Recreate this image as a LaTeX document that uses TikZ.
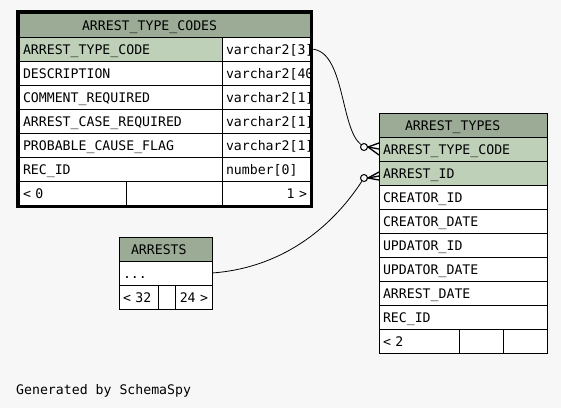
\documentclass[tikz,border=0pt]{standalone}
\usepackage{fontspec}
\newfontfamily\erdmono{DejaVu Sans Mono}
\usepackage{xcolor}
\definecolor{diagrambg}{HTML}{F7F7F7}
\definecolor{tablehead}{HTML}{9BAB96}
\definecolor{keyrow}{HTML}{BED1B8}
\usetikzlibrary{positioning}

\begin{document}
\begin{tikzpicture}[
  x=1pt,y=-1pt,
  cell/.style={draw=black,line width=1pt,fill=white,anchor=north west,outer sep=0pt,
    inner xsep=4pt,inner ysep=0pt,minimum height=24pt,text height=11.5pt,text depth=1.5pt,
    align=left,text width=#1,font=\erdmono\fontsize{13.2}{15}\selectfont},
  keycell/.style={cell=#1,fill=keyrow},
  rcell/.style={cell=#1,align=right},
  headcell/.style args={#1/#2}{cell=#2,fill=tablehead,inner xsep=#1},
  optional/.style={circle,draw=black,line width=1pt,fill=diagrambg,inner sep=0pt,minimum size=7pt},
  rel/.style={draw=black,line width=0.8pt},
  foot/.style={draw=black,line width=1.3pt}
]
\fill[diagrambg] (0,0) rectangle (561,408);
\useasboundingbox (0,0) rectangle (561,408);

% ARREST_TYPE_CODES
\begin{scope}
\clip (19,13) rectangle (310,205);
\node[headcell={63pt/165pt}] (atc) at (19,13) {ARREST\_TYPE\_CODES};
\node[keycell=195pt] (atc-code) at (atc.south west) {ARREST\_TYPE\_CODE};
\node[cell=81pt] (atc-code-t) at (atc-code.north east) {varchar2[3]};
\node[cell=195pt] (atc-desc) at (atc-code.south west) {DESCRIPTION};
\node[cell=81pt] (atc-desc-t) at (atc-desc.north east) {varchar2[40]};
\node[cell=195pt] (atc-comment) at (atc-desc.south west) {COMMENT\_REQUIRED};
\node[cell=81pt] (atc-comment-t) at (atc-comment.north east) {varchar2[1]};
\node[cell=195pt] (atc-case) at (atc-comment.south west) {ARREST\_CASE\_REQUIRED};
\node[cell=81pt] (atc-case-t) at (atc-case.north east) {varchar2[1]};
\node[cell=195pt] (atc-cause) at (atc-case.south west) {PROBABLE\_CAUSE\_FLAG};
\node[cell=81pt] (atc-cause-t) at (atc-cause.north east) {varchar2[1]};
\node[cell=195pt] (atc-rec) at (atc-cause.south west) {REC\_ID};
\node[cell=81pt] (atc-rec-t) at (atc-rec.north east) {number[0]};
\node[cell=99pt] (atc-prev) at (atc-rec.south west) {< 0};
\node[cell=88pt] (atc-gap) at (atc-prev.north east) {};
\node[rcell=81pt] (atc-next) at (atc-gap.north east) {1 >};
\end{scope}
\draw[line width=3.3pt] (17.35,11.5) rectangle (311.5,206.5);

% ARREST_TYPES
\node[headcell={26pt/116pt}] (at) at (379,113) {ARREST\_TYPES};
\node[keycell=160pt] (at-code) at (at.south west) {ARREST\_TYPE\_CODE};
\node[keycell=160pt] (at-id) at (at-code.south west) {ARREST\_ID};
\node[cell=160pt] (at-cid) at (at-id.south west) {CREATOR\_ID};
\node[cell=160pt] (at-cdate) at (at-cid.south west) {CREATOR\_DATE};
\node[cell=160pt] (at-uid) at (at-cdate.south west) {UPDATOR\_ID};
\node[cell=160pt] (at-udate) at (at-uid.south west) {UPDATOR\_DATE};
\node[cell=160pt] (at-adate) at (at-udate.south west) {ARREST\_DATE};
\node[cell=160pt] (at-rec) at (at-adate.south west) {REC\_ID};
\node[cell=72pt] (at-prev) at (at-rec.south west) {< 2};
\node[cell=36pt] (at-gap) at (at-prev.north east) {};
\node[cell=36pt] (at-next) at (at-gap.north east) {};

% ARRESTS
\node[headcell={12pt/69pt}] (arr) at (119,237) {ARRESTS};
\node[cell=85pt] (arr-dots) at (arr.south west) {...};
\node[cell=31pt] (arr-prev) at (arr-dots.south west) {< 32};
\node[cell=9pt] (arr-gap) at (arr-prev.north east) {};
\node[rcell=29pt] (arr-next) at (arr-gap.north east) {24 >};

% relationships
\node[optional] (o1) at (364,147) {};
\node[optional] (o2) at (364,178) {};
\draw[rel] (atc-code-t.east) .. controls (345,50) and (340,128) .. (o1);
\draw[rel] (arr-dots.east) .. controls (280,268) and (330,230) .. (o2);
\draw[foot] ([yshift=6pt]at-code.west) -- (o1.east) -- ([yshift=-6pt]at-code.west);
\draw[foot] (o1.east) -- (at-code.west);
\draw[foot] ([yshift=1pt]at-id.west) -- (o2.east) -- ([yshift=-7pt]at-id.west);
\draw[foot] (o2.east) -- ([yshift=-3pt]at-id.west);

\node[anchor=base west,inner sep=0pt,font=\erdmono\fontsize{13.2}{15}\selectfont] (credit) at (16,394) {Generated by SchemaSpy};
\end{tikzpicture}
\end{document}
